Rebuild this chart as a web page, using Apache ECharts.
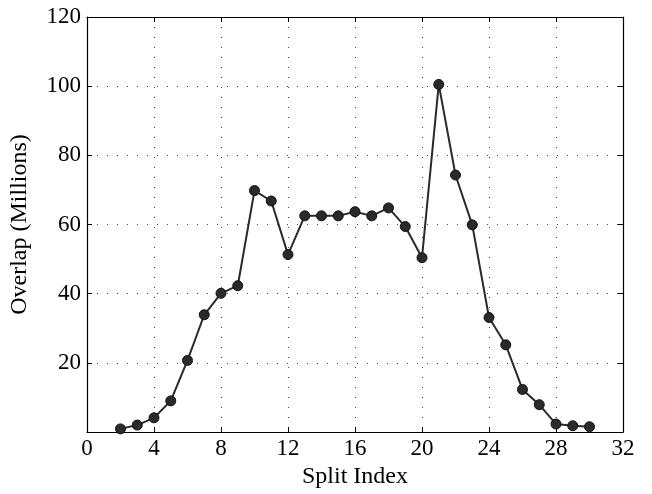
<!DOCTYPE html>
<html><head><meta charset="utf-8">
<script src="https://cdn.jsdelivr.net/npm/echarts@6/dist/echarts.min.js"></script>
<style>html,body{margin:0;padding:0;background:#fff}#c{width:652px;height:494px}</style>
</head><body><div id="c"></div>
<script>
const splitIndex = [2,3,4,5,6,7,8,9,10,11,12,13,14,15,16,17,18,19,20,21,22,23,24,25,26,27,28,29,30];
const overlap = [0.9,2.0,4.1,9.0,20.7,33.9,40.1,42.3,69.8,66.8,51.3,62.5,62.5,62.5,63.7,62.5,64.8,59.4,50.4,100.5,74.3,59.9,33.1,25.2,12.3,7.9,2.3,1.8,1.5];
const xTicks = [0,4,8,12,16,20,24,28,32];
const yTicks = [20,40,60,80,100,120];

const font = 'Liberation Serif';
const chart = echarts.init(document.getElementById('c'));
const axisLineStyle = {show:true, onZero:false, lineStyle:{color:'#000', width:1.2}};
const tickStyle = {show:true, inside:true, length:5, lineStyle:{color:'#000', width:1}};
const gridLine = {show:true, lineStyle:{color:'#444', width:1, type:[1,9]}};
chart.setOption({
  animation:false,
  grid:{left:87, right:29, top:17, bottom:62, containLabel:false, outerBoundsMode:'none'},
  xAxis:[{
    type:'value', min:0, max:32, interval:4, position:'bottom',
    name:'Split Index', nameLocation:'middle', nameGap:31,
    nameTextStyle:{fontFamily:font, fontSize:24, color:'#000'},
    axisLine:axisLineStyle, axisTick:tickStyle, splitLine:gridLine,
    axisLabel:{fontFamily:font, fontSize:23, color:'#000', margin:5,
      formatter:v=>xTicks.includes(v)?String(v):''}
  },{
    type:'value', min:0, max:32, interval:4, position:'top',
    axisLine:axisLineStyle, axisTick:tickStyle, splitLine:{show:false}, axisLabel:{show:false}
  }],
  yAxis:[{
    type:'value', min:0, max:120, interval:20, position:'left',
    name:'Overlap (Millions)', nameLocation:'middle', nameGap:55,
    nameTextStyle:{fontFamily:font, fontSize:24, color:'#000'},
    axisLine:axisLineStyle, axisTick:tickStyle, splitLine:gridLine,
    axisLabel:{fontFamily:font, fontSize:23, color:'#000', margin:6,
      formatter:v=>yTicks.includes(v)?String(v):''}
  },{
    type:'value', min:0, max:120, interval:20, position:'right',
    axisLine:axisLineStyle, axisTick:tickStyle, splitLine:{show:false}, axisLabel:{show:false}
  }],
  series:[{
    type:'line', xAxisIndex:0, yAxisIndex:0,
    data:splitIndex.map((x,i)=>[x, overlap[i]]),
    symbol:'circle', symbolSize:10,
    lineStyle:{color:'#2a2a2a', width:2},
    itemStyle:{color:'#2a2a2a', borderColor:'#111', borderWidth:1}
  }]
});
</script></body></html>
